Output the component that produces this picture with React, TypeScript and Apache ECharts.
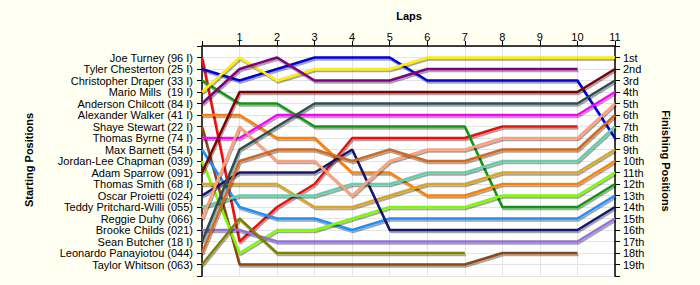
import React, { useEffect, useRef } from "react";
import * as echarts from "echarts";

const lapLabels = ["", "1", "2", "3", "4", "5", "6", "7", "8", "9", "10", "11"];
const drivers = [
  "Joe Turney (96 I)",
  "Tyler Chesterton (25 I)",
  "Christopher Draper (33 I)",
  "Mario Mills  (19 I)",
  "Anderson Chilcott (84 I)",
  "Alexander Walker (41 I)",
  "Shaye Stewart (22 I)",
  "Thomas Byrne (74 I)",
  "Max Barnett (54 I)",
  "Jordan-Lee Chapman (039)",
  "Adam Sparrow (091)",
  "Thomas Smith (68 I)",
  "Oscar Proietti (024)",
  "Teddy Pritchard-Willi (055)",
  "Reggie Duhy (066)",
  "Brooke Childs (021)",
  "Sean Butcher (18 I)",
  "Leonardo Panayiotou (044)",
  "Taylor Whitson (063)",
];
const finishLabels = [
  "1st", "2nd", "3rd", "4th", "5th", "6th", "7th", "8th", "9th", "10th",
  "11th", "12th", "13th", "14th", "15th", "16th", "17th", "18th", "19th",
];

// positions from lap 0 (start) onward
const joeTurney = [1, 17, 14, 12, 8, 8, 8, 8, 7, 7, 7];
const tylerChesterton = [2, 3, 2, 1, 1, 1, 3, 3, 3, 3, 3, 8];
const christopherDraper = [3, 5, 5, 7, 7, 7, 7, 7, 14, 14, 14, 12];
const marioMills = [4, 1, 3, 2, 2, 2, 1, 1, 1, 1, 1, 1];
const andersonChilcott = [5, 2, 1, 3, 3, 3, 2, 2, 2, 2, 2];
const alexanderWalker = [6, 6, 8, 8, 11, 11, 13, 13, 12, 12, 12, 10];
const shayeStewart = [7, 19, 19, 19, 19, 19, 19, 19, 18, 18, 18];
const thomasByrne = [8, 8, 6, 6, 6, 6, 6, 6, 6, 6, 6, 4];
const maxBarnett = [9, 14, 15, 15, 16, 15, 15, 15, 15, 15, 15, 13];
const jordanLeeChapman = [10, 18, 16, 16, 15, 14, 14, 14, 13, 13, 13, 11];
const adamSparrow = [11, 4, 4, 4, 4, 4, 4, 4, 4, 4, 4, 2];
const thomasSmith = [12, 12, 12, 14, 14, 13, 12, 12, 11, 11, 11, 9];
const oscarProietti = [13, 11, 11, 11, 9, 16, 16, 16, 16, 16, 16, 14];
const teddyPritchardWilli = [14, 13, 13, 13, 12, 12, 11, 11, 10, 10, 10, 7];
const reggieDuhy = [15, 7, 10, 10, 13, 10, 9, 9, 8, 8, 8, 5];
const brookeChilds = [16, 16, 17, 17, 17, 17, 17, 17, 17, 17, 17, 15];
const seanButcher = [17, 9, 7, 5, 5, 5, 5, 5, 5, 5, 5, 3];
const leonardoPanayiotou = [18, 10, 9, 9, 10, 9, 10, 10, 9, 9, 9, 6];
const taylorWhitson = [19, 15, 18, 18, 18, 18, 18, 18];

const allPositions = [
  joeTurney, tylerChesterton, christopherDraper, marioMills, andersonChilcott,
  alexanderWalker, shayeStewart, thomasByrne, maxBarnett, jordanLeeChapman,
  adamSparrow, thomasSmith, oscarProietti, teddyPritchardWilli, reggieDuhy,
  brookeChilds, seanButcher, leonardoPanayiotou, taylorWhitson,
];
const colors = [
  "#EE1111", "#0000DD", "#119911", "#FFEE00", "#800080",
  "#FF8000", "#8B4513", "#FF00FF", "#1E90FF", "#7CFC00",
  "#800000", "#DAA520", "#191970", "#66CDAA", "#FFA07A",
  "#9370DB", "#2F4F4F", "#D2691E", "#808000",
];

const FONT = "'Liberation Sans', Arial, sans-serif";

export default function App() {
  const ref = useRef<HTMLDivElement>(null);
  useEffect(() => {
    if (!ref.current) return;
    const chart = echarts.init(ref.current, undefined, { renderer: "svg" });
    const axisLineStyle = { color: "#000", width: 1.5 };
    const option = {
      animation: false,
      backgroundColor: "#FFFFF2",
      textStyle: { fontFamily: FONT },
      grid: {
        left: 202, right: 85, top: 46, bottom: 9,
        show: true, backgroundColor: "#ffffff", borderWidth: 0,
      },
      xAxis: {
        type: "value", position: "top", min: 0, max: 11, interval: 1,
        axisLine: { show: true, lineStyle: axisLineStyle },
        axisTick: { show: true, length: 5, lineStyle: { color: "#000" } },
        axisLabel: {
          formatter: (v: number) => lapLabels[v] ?? "",
          color: "#000", fontSize: 11, margin: 4, fontFamily: FONT,
        },
        splitLine: { show: true, lineStyle: { color: "#e4e4e4", width: 1 } },
      },
      yAxis: [
        {
          type: "value", position: "left", min: 0, max: 20, interval: 1, inverse: true,
          axisLine: { show: true, lineStyle: axisLineStyle },
          axisTick: { show: true, length: 5, lineStyle: { color: "#000" } },
          axisLabel: {
            formatter: (v: number) => drivers[v - 1] ?? "",
            color: "#000", fontSize: 11, margin: 9, fontFamily: FONT,
          },
          splitLine: { show: true, lineStyle: { color: "#e4e4e4", width: 1 } },
        },
        {
          type: "value", position: "right", min: 0, max: 20, interval: 1, inverse: true,
          axisLine: { show: true, lineStyle: axisLineStyle },
          axisTick: { show: true, length: 5, lineStyle: { color: "#000" } },
          axisLabel: {
            formatter: (v: number) => finishLabels[v - 1] ?? "",
            color: "#000", fontSize: 11, margin: 8, fontFamily: FONT,
          },
          splitLine: { show: false },
        },
      ],
      graphic: [
        {
          type: "text", x: 409, y: 16,
          style: {
            text: "Laps", fontSize: 11, fontWeight: "bold", fontFamily: FONT,
            fill: "#000", textAlign: "center", textVerticalAlign: "middle",
          },
        },
        {
          type: "text", x: 29, y: 160, rotation: Math.PI / 2,
          style: {
            text: "Starting Positions", fontSize: 11, fontWeight: "bold", fontFamily: FONT,
            fill: "#000", textAlign: "center", textVerticalAlign: "middle",
          },
        },
        {
          type: "text", x: 666, y: 161, rotation: -Math.PI / 2,
          style: {
            text: "Finishing Positions", fontSize: 11, fontWeight: "bold", fontFamily: FONT,
            fill: "#000", textAlign: "center", textVerticalAlign: "middle",
          },
        },
      ],
      series: allPositions.map((arr, i) => ({
        type: "line",
        name: drivers[i],
        yAxisIndex: 0,
        symbol: "none",
        data: arr.map((p, lap) => [lap, p]),
        lineStyle: {
          color: colors[i], width: 2.5,
          shadowColor: "rgba(0,0,0,0.35)", shadowOffsetX: 1, shadowOffsetY: 2, shadowBlur: 1,
        },
        itemStyle: { color: colors[i] },
      })),
    };
    chart.setOption(option as any);
    return () => chart.dispose();
  }, []);
  return (
    <div
      ref={ref}
      style={{ position: "absolute", left: 0, top: 0, width: 700, height: 285 }}
    />
  );
}
